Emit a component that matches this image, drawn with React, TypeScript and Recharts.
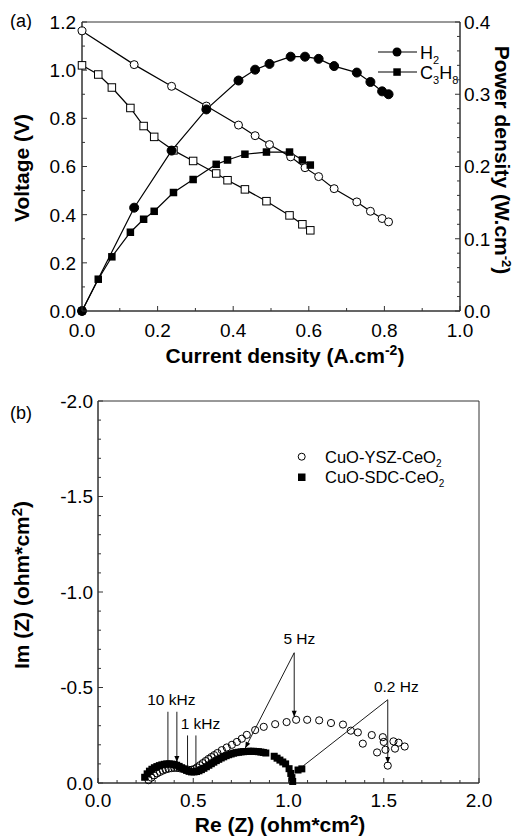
import React from 'react';
import {
  ComposedChart,
  Line,
  Scatter,
  XAxis,
  YAxis,
  ReferenceArea,
  ReferenceLine,
  ReferenceDot,
  Legend,
} from 'recharts';

const FONT = '"Liberation Sans", Arial, Helvetica, sans-serif';
const AXIS = '#333';

// (a) polarisation data
const h2Current = [0.0, 0.138, 0.237, 0.329, 0.414, 0.458, 0.496, 0.552, 0.59, 0.626, 0.667, 0.727, 0.763, 0.794, 0.811];
const h2Voltage = [1.163, 1.023, 0.933, 0.851, 0.772, 0.728, 0.691, 0.64, 0.595, 0.558, 0.508, 0.453, 0.414, 0.384, 0.37];
const h2Power = [0.0, 0.143, 0.222, 0.279, 0.319, 0.334, 0.342, 0.352, 0.352, 0.349, 0.339, 0.33, 0.317, 0.304, 0.3];

const c3h8Current = [0.0, 0.043, 0.079, 0.128, 0.163, 0.191, 0.242, 0.294, 0.355, 0.385, 0.431, 0.488, 0.549, 0.583, 0.604];
const c3h8Voltage = [1.02, 0.982, 0.928, 0.843, 0.768, 0.723, 0.667, 0.623, 0.571, 0.543, 0.505, 0.456, 0.397, 0.36, 0.335];
const c3h8Power = [0.0, 0.044, 0.075, 0.109, 0.127, 0.138, 0.164, 0.182, 0.203, 0.209, 0.217, 0.22, 0.22, 0.209, 0.202];

// (b) impedance data (Im stored as plotted, negative)
const yszRe = [
  0.265, 0.28, 0.295, 0.31, 0.325, 0.34, 0.355, 0.37, 0.385, 0.4, 0.415, 0.43, 0.445, 0.46, 0.475, 0.49,
  0.505, 0.52, 0.535, 0.55, 0.565, 0.58, 0.595, 0.61, 0.627, 0.65, 0.676, 0.703, 0.729, 0.755, 0.781,
  0.825, 0.87, 0.93, 0.99, 1.04, 1.098, 1.161, 1.223, 1.286, 1.327, 1.364, 1.39, 1.437, 1.465, 1.495,
  1.5, 1.509, 1.521, 1.551, 1.559, 1.578, 1.61,
];
const yszIm = [
  -0.015, -0.028, -0.04, -0.05, -0.058, -0.065, -0.071, -0.075, -0.078, -0.079, -0.079, -0.077, -0.074,
  -0.071, -0.069, -0.069, -0.073, -0.082, -0.093, -0.104, -0.115, -0.126, -0.136, -0.146, -0.157, -0.172,
  -0.186, -0.2, -0.215, -0.232, -0.252, -0.277, -0.294, -0.308, -0.319, -0.331, -0.331, -0.328, -0.314,
  -0.306, -0.274, -0.265, -0.206, -0.251, -0.16, -0.24, -0.215, -0.174, -0.091, -0.218, -0.18, -0.211,
  -0.191,
];
const sdcRe = [
  0.245, 0.258, 0.27, 0.283, 0.296, 0.309, 0.322, 0.335, 0.348, 0.361, 0.374, 0.387, 0.4, 0.413, 0.426,
  0.439, 0.452, 0.465, 0.478, 0.491, 0.504, 0.517, 0.53, 0.543, 0.556, 0.569, 0.582, 0.595, 0.608, 0.621,
  0.634, 0.647, 0.66, 0.673, 0.686, 0.699, 0.712, 0.725, 0.738, 0.751, 0.764, 0.777, 0.79, 0.803, 0.816,
  0.829, 0.842, 0.855, 0.868, 0.881, 0.925, 0.94, 0.955, 0.97, 0.985, 1.003, 1.012, 1.018, 1.022, 1.05,
  1.07,
];
const sdcIm = [
  -0.03, -0.048, -0.062, -0.072, -0.08, -0.086, -0.091, -0.095, -0.098, -0.1, -0.1, -0.099, -0.097,
  -0.093, -0.087, -0.08, -0.073, -0.066, -0.061, -0.058, -0.058, -0.06, -0.064, -0.07, -0.077, -0.085,
  -0.093, -0.101, -0.109, -0.117, -0.124, -0.131, -0.137, -0.143, -0.148, -0.152, -0.156, -0.159, -0.161,
  -0.163, -0.164, -0.165, -0.166, -0.166, -0.166, -0.165, -0.164, -0.162, -0.16, -0.157, -0.14, -0.13,
  -0.12, -0.11, -0.1, -0.075, -0.05, -0.028, -0.008, -0.068, -0.074,
];

// axis ticks
const curTicks = [0, 0.1, 0.2, 0.3, 0.4, 0.5, 0.6, 0.7, 0.8, 0.9, 1.0];
const curMajor = [0, 0.2, 0.4, 0.6, 0.8, 1.0];
const voltTicks = [0, 0.1, 0.2, 0.3, 0.4, 0.5, 0.6, 0.7, 0.8, 0.9, 1.0, 1.1, 1.2];
const voltMajor = [0, 0.2, 0.4, 0.6, 0.8, 1.0, 1.2];
const powTicks = [
  0, 0.02, 0.04, 0.06, 0.08, 0.1, 0.12, 0.14, 0.16, 0.18, 0.2, 0.22, 0.24, 0.26, 0.28, 0.3, 0.32, 0.34,
  0.36, 0.38, 0.4,
];
const powMajor = [0, 0.1, 0.2, 0.3, 0.4];
const reTicks = [
  0, 0.1, 0.2, 0.3, 0.4, 0.5, 0.6, 0.7, 0.8, 0.9, 1.0, 1.1, 1.2, 1.3, 1.4, 1.5, 1.6, 1.7, 1.8, 1.9, 2.0,
];
const reMajor = [0, 0.5, 1.0, 1.5, 2.0];
const imTicks = [
  -2.0, -1.9, -1.8, -1.7, -1.6, -1.5, -1.4, -1.3, -1.2, -1.1, -1.0, -0.9, -0.8, -0.7, -0.6, -0.5, -0.4,
  -0.3, -0.2, -0.1, 0,
];
const imMajor = [-2.0, -1.5, -1.0, -0.5, 0];

// frequency annotations for (b)
const freqLabels = [
  { text: '10 kHz', x: 0.385, y: -0.436 },
  { text: '1 kHz', x: 0.538, y: -0.311 },
  { text: '5 Hz', x: 1.057, y: -0.755 },
  { text: '0.2 Hz', x: 1.566, y: -0.505 },
];
const freqArrows = [
  { x1: 0.367, y1: -0.373, x2: 0.367, y2: -0.106, head: false },
  { x1: 0.414, y1: -0.373, x2: 0.414, y2: -0.11, head: true },
  { x1: 0.47, y1: -0.249, x2: 0.47, y2: -0.08, head: false },
  { x1: 0.514, y1: -0.249, x2: 0.514, y2: -0.061, head: false },
  { x1: 1.03, y1: -0.682, x2: 1.03, y2: -0.347, head: true },
  { x1: 1.03, y1: -0.682, x2: 0.773, y2: -0.183, head: true },
  { x1: 1.521, y1: -0.436, x2: 1.521, y2: -0.105, head: true },
  { x1: 1.521, y1: -0.436, x2: 1.078, y2: -0.09, head: false },
];

const h2V = h2Current.map((x, i) => ({ x, v: h2Voltage[i] }));
const h2P = h2Current.map((x, i) => ({ x, p: h2Power[i] }));
const c3V = c3h8Current.map((x, i) => ({ x, v: c3h8Voltage[i] }));
const c3P = c3h8Current.map((x, i) => ({ x, p: c3h8Power[i] }));
const ysz = yszRe.map((x, i) => ({ x, y: yszIm[i] }));
const sdc = sdcRe.map((x, i) => ({ x, y: sdcIm[i] }));

const near = (v: number, list: number[]) => list.some((m) => Math.abs(m - v) < 1e-6);
const fmt = (v: number) => (Math.abs(v) < 1e-9 ? '0.0' : v.toFixed(1));

// inward tick marks, labels only on major ticks
const makeTick = (side: 'bottom' | 'left' | 'right', majors: number[], offset: number) => (props: any) => {
  const { x, y, payload } = props;
  const v = payload.value as number;
  const major = near(v, majors);
  const len = major ? 5 : 3;
  if (side === 'bottom') {
    return (
      <g>
        <line x1={x} y1={y} x2={x} y2={y - len} stroke={AXIS} />
        {major && (
          <text x={x} y={y + offset} textAnchor="middle" fontSize={19} fontFamily={FONT} fill="#000">
            {fmt(v)}
          </text>
        )}
      </g>
    );
  }
  const dir = side === 'left' ? 1 : -1;
  return (
    <g>
      <line x1={x} y1={y} x2={x + dir * len} y2={y} stroke={AXIS} />
      {major && (
        <text
          x={x - dir * offset}
          y={y}
          dy="0.36em"
          textAnchor={side === 'left' ? 'end' : 'start'}
          fontSize={19}
          fontFamily={FONT}
          fill="#000"
        >
          {fmt(v)}
        </text>
      )}
    </g>
  );
};

const openCircle = (r: number) => (p: any) =>
  <circle key={`oc${p.index}`} cx={p.cx} cy={p.cy} r={r} fill="#fff" stroke="#000" strokeWidth={1} />;
const fullCircle = (r: number) => (p: any) =>
  <circle key={`fc${p.index}`} cx={p.cx} cy={p.cy} r={r} fill="#000" stroke="#000" />;
const openSquare = (s: number) => (p: any) =>
  <rect key={`os${p.index}`} x={p.cx - s / 2} y={p.cy - s / 2} width={s} height={s} fill="#fff" stroke="#000" />;
const fullSquare = (s: number) => (p: any) =>
  <rect key={`fs${p.index}`} x={p.cx - s / 2} y={p.cy - s / 2} width={s} height={s} fill="#000" />;

const arrowShape = (head: boolean) => (p: any) => {
  const { x1, y1, x2, y2 } = p;
  const a = Math.atan2(y2 - y1, x2 - x1);
  const L = 6;
  const W = 2.5;
  const bx = x2 - L * Math.cos(a);
  const by = y2 - L * Math.sin(a);
  const pts = `${x2},${y2} ${bx - W * Math.sin(a)},${by + W * Math.cos(a)} ${bx + W * Math.sin(a)},${by - W * Math.cos(a)}`;
  return (
    <g>
      <line x1={x1} y1={y1} x2={x2} y2={y2} stroke="#000" strokeWidth={0.9} />
      {head && <polygon points={pts} fill="#000" />}
    </g>
  );
};

const LegendA = () => (
  <svg width={130} height={45} style={{ display: 'block' }}>
    <g fontFamily={FONT} fontSize={18} fill="#000">
      <line x1={8} y1={12} x2={47} y2={12} stroke="#000" strokeWidth={1.2} />
      <circle cx={27} cy={12} r={4.5} fill="#000" />
      <text x={50} y={18.5}>
        H<tspan dy={5} fontSize={11}>2</tspan>
      </text>
      <line x1={8} y1={32} x2={47} y2={32} stroke="#000" strokeWidth={1.2} />
      <rect x={23.3} y={28.3} width={7.5} height={7.5} fill="#000" />
      <text x={50} y={38.5}>
        C<tspan dy={5} fontSize={11}>3</tspan>
        <tspan dy={-5}>H</tspan>
        <tspan dy={5} fontSize={11}>8</tspan>
      </text>
    </g>
  </svg>
);

const LegendB = () => (
  <svg width={170} height={45} style={{ display: 'block' }}>
    <g fontFamily={FONT} fontSize={16.5} fill="#000">
      <circle cx={11.7} cy={11.7} r={3.5} fill="none" stroke="#000" />
      <text x={35} y={17.5}>
        CuO-YSZ-CeO<tspan dy={4} fontSize={10}>2</tspan>
      </text>
      <rect x={8} y={28.5} width={7.5} height={7.5} fill="#000" />
      <text x={35} y={38}>
        CuO-SDC-CeO<tspan dy={4} fontSize={10}>2</tspan>
      </text>
    </g>
  </svg>
);

const titleStyle = { fontFamily: FONT, fontSize: 21, fontWeight: 700, fill: '#000' } as const;

const PolarisationChart = () => (
  <ComposedChart width={516} height={370} margin={{ top: 22, right: 0, bottom: 19, left: 22 }}>
    <XAxis
      type="number"
      dataKey="x"
      domain={[0, 1]}
      ticks={curTicks}
      interval={0}
      tickSize={0}
      tickMargin={0}
      tickLine={false}
      axisLine={{ stroke: AXIS }}
      tick={makeTick('bottom', curMajor, 26)}
      height={40}
      label={() => (
        <text x={285} y={363} textAnchor="middle" {...titleStyle}>
          Current density (A.cm<tspan dy={-8} fontSize={14}>-2</tspan>
          <tspan dy={8}>)</tspan>
        </text>
      )}
    />
    <YAxis
      yAxisId="v"
      type="number"
      domain={[0, 1.2]}
      ticks={voltTicks}
      interval={0}
      tickSize={0}
      tickMargin={0}
      tickLine={false}
      axisLine={{ stroke: AXIS }}
      tick={makeTick('left', voltMajor, 6)}
      width={60}
      label={() => (
        <text x={29} y={168} textAnchor="middle" transform="rotate(-90 29 168)" {...titleStyle}>
          Voltage (V)
        </text>
      )}
    />
    <YAxis
      yAxisId="p"
      orientation="right"
      type="number"
      domain={[0, 0.4]}
      ticks={powTicks}
      interval={0}
      tickSize={0}
      tickMargin={0}
      tickLine={false}
      axisLine={{ stroke: AXIS }}
      tick={makeTick('right', powMajor, 4)}
      width={56}
      label={() => (
        <text x={495} y={160} textAnchor="middle" transform="rotate(90 495 160)" {...titleStyle}>
          Power density (W.cm<tspan dy={-7} fontSize={13}>-2</tspan>
          <tspan dy={7}>)</tspan>
        </text>
      )}
    />
    <ReferenceArea yAxisId="v" x1={0} x2={1} y1={0} y2={1.2} fill="none" stroke={AXIS} />
    <Line yAxisId="v" data={h2V} dataKey="v" type="linear" stroke="#000" strokeWidth={1.2}
      dot={openCircle(4)} activeDot={false} isAnimationActive={false} />
    <Line yAxisId="v" data={c3V} dataKey="v" type="linear" stroke="#000" strokeWidth={1.2}
      dot={openSquare(7.5)} activeDot={false} isAnimationActive={false} />
    <Line yAxisId="p" data={h2P} dataKey="p" type="linear" stroke="#000" strokeWidth={1.2}
      dot={fullCircle(4.5)} activeDot={false} isAnimationActive={false} />
    <Line yAxisId="p" data={c3P} dataKey="p" type="linear" stroke="#000" strokeWidth={1.2}
      dot={fullSquare(7.5)} activeDot={false} isAnimationActive={false} />
    <Legend
      layout="horizontal"
      verticalAlign="middle"
      align="center"
      wrapperStyle={{ left: 370, top: 40, width: 130 }}
      content={() => <LegendA />}
    />
  </ComposedChart>
);

const ImpedanceChart = () => (
  <ComposedChart width={516} height={458} margin={{ top: 21, right: 37, bottom: 15, left: 38 }}>
    <XAxis
      type="number"
      dataKey="x"
      domain={[0, 2]}
      ticks={reTicks}
      interval={0}
      tickSize={0}
      tickMargin={0}
      tickLine={false}
      axisLine={{ stroke: AXIS }}
      tick={makeTick('bottom', reMajor, 24)}
      height={40}
      label={() => (
        <text x={280} y={452} textAnchor="middle" {...titleStyle}>
          Re (Z) (ohm*cm<tspan dy={-7} fontSize={15}>2</tspan>
          <tspan dy={7}>)</tspan>
        </text>
      )}
    />
    <YAxis
      type="number"
      dataKey="y"
      domain={[-2, 0]}
      reversed
      ticks={imTicks}
      interval={0}
      tickSize={0}
      tickMargin={0}
      tickLine={false}
      axisLine={{ stroke: AXIS }}
      tick={makeTick('left', imMajor, 5)}
      width={60}
      label={() => (
        <text x={29} y={205} textAnchor="middle" transform="rotate(-90 29 205)" {...titleStyle}>
          Im (Z) (ohm*cm<tspan dy={-7} fontSize={15}>2</tspan>
          <tspan dy={7}>)</tspan>
        </text>
      )}
    />
    <ReferenceArea x1={0} x2={2} y1={-2} y2={0} fill="none" stroke={AXIS} />
    <Scatter data={sdc} shape={fullSquare(7)} isAnimationActive={false} />
    <Scatter data={ysz} shape={(p: any) => <circle cx={p.cx} cy={p.cy} r={3.6} fill="none" stroke="#000" />}
      isAnimationActive={false} />
    {freqArrows.map((a, i) => (
      <ReferenceLine
        key={`arr${i}`}
        segment={[{ x: a.x1, y: a.y1 }, { x: a.x2, y: a.y2 }]}
        shape={arrowShape(a.head)}
      />
    ))}
    {freqLabels.map((f) => (
      <ReferenceDot
        key={f.text}
        x={f.x}
        y={f.y}
        shape={(p: any) => (
          <text x={p.cx} y={p.cy} dy="0.36em" textAnchor="middle" fontFamily={FONT} fontSize={15.5} fill="#000">
            {f.text}
          </text>
        )}
      />
    ))}
    <Legend
      layout="horizontal"
      verticalAlign="middle"
      align="center"
      wrapperStyle={{ left: 290, top: 65, width: 170 }}
      content={() => <LegendB />}
    />
  </ComposedChart>
);

export default function App() {
  return (
    <div style={{ position: 'absolute', left: 0, top: 0, width: 516, height: 838, background: '#fff', fontFamily: FONT }}>
      <div style={{ position: 'absolute', left: 0, top: 0 }}>
        <PolarisationChart />
      </div>
      <div style={{ position: 'absolute', left: 0, top: 380 }}>
        <ImpedanceChart />
      </div>
      <svg width={60} height={30} style={{ position: 'absolute', left: 0, top: 0 }}>
        <text x={10} y={27} fontFamily={FONT} fontSize={18} fill="#000">(a)</text>
      </svg>
      <svg width={60} height={30} style={{ position: 'absolute', left: 0, top: 395 }}>
        <text x={10} y={24} fontFamily={FONT} fontSize={18} fill="#000">(b)</text>
      </svg>
    </div>
  );
}
